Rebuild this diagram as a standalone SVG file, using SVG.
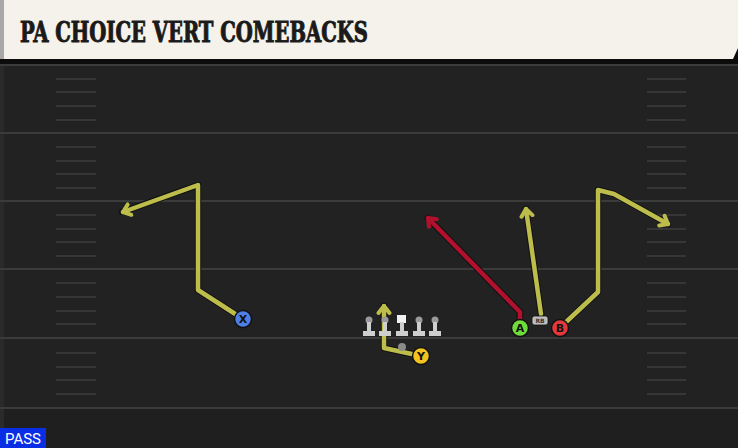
<svg xmlns="http://www.w3.org/2000/svg" width="738" height="448" viewBox="0 0 738 448">
<style>
.yl{fill:none;stroke:#bdbd4c;stroke-width:4.5;stroke-linejoin:round;stroke-linecap:round}
.rd{fill:none;stroke:#b3102e;stroke-width:4.5;stroke-linejoin:round;stroke-linecap:round}
.ol{fill:none;stroke:#111;stroke-width:6.5;stroke-linejoin:round;stroke-linecap:round}
.fl{stroke:#3b3b3b;stroke-width:2}
.hm{stroke:#363636;stroke-width:2}
.pl{stroke:#111;stroke-width:1.5}
.lt{font-family:"DejaVu Sans","Liberation Sans",sans-serif;font-weight:bold;font-size:11px;fill:#111;text-anchor:middle}
.ln{fill:#cfcfcf}
.lh{fill:#9a9a9a}
</style>
<defs>
<marker id="ay" viewBox="-9 -9 18 18" markerWidth="18" markerHeight="18" refX="0" refY="0" orient="auto" markerUnits="userSpaceOnUse">
<polyline points="-7,-5.5 0,0 -7,5.5" fill="none" stroke="#bdbd4c" stroke-width="4" stroke-linecap="round" stroke-linejoin="round"/>
</marker>
<marker id="ar" viewBox="-9 -9 18 18" markerWidth="18" markerHeight="18" refX="0" refY="0" orient="auto" markerUnits="userSpaceOnUse">
<polyline points="-7,-5.5 0,0 -7,5.5" fill="none" stroke="#b3102e" stroke-width="4" stroke-linecap="round" stroke-linejoin="round"/>
</marker>
<g id="lm">
<circle cx="0" cy="-7" r="3.5" class="lh"/>
<rect x="-2" y="-5" width="4" height="10" class="ln"/>
<rect x="-6" y="4" width="12" height="5" class="ln"/>
</g>
</defs>
<rect x="0" y="0" width="738" height="448" fill="#222222"/>
<rect x="0" y="408" width="738" height="40" fill="#1f1f1f"/>
<rect x="0" y="60" width="4" height="388" fill="#2a2a2a"/>
<g id="field">
<line class="fl" x1="0" y1="65" x2="738" y2="65"/>
<line class="fl" x1="0" y1="133" x2="738" y2="133"/>
<line class="fl" x1="0" y1="201" x2="738" y2="201"/>
<line class="fl" x1="0" y1="269" x2="738" y2="269"/>
<line class="fl" x1="0" y1="338" x2="738" y2="338"/>
<line class="fl" x1="0" y1="408" x2="738" y2="408"/>
<g class="hm">
<line x1="56" y1="79" x2="96" y2="79"/><line x1="56" y1="92" x2="96" y2="92"/><line x1="56" y1="106" x2="96" y2="106"/><line x1="56" y1="120" x2="96" y2="120"/>
<line x1="56" y1="147" x2="96" y2="147"/><line x1="56" y1="161" x2="96" y2="161"/><line x1="56" y1="174" x2="96" y2="174"/><line x1="56" y1="188" x2="96" y2="188"/>
<line x1="56" y1="215" x2="96" y2="215"/><line x1="56" y1="229" x2="96" y2="229"/><line x1="56" y1="242" x2="96" y2="242"/><line x1="56" y1="256" x2="96" y2="256"/>
<line x1="56" y1="283" x2="96" y2="283"/><line x1="56" y1="297" x2="96" y2="297"/><line x1="56" y1="311" x2="96" y2="311"/><line x1="56" y1="324" x2="96" y2="324"/>
<line x1="56" y1="353" x2="96" y2="353"/><line x1="56" y1="367" x2="96" y2="367"/><line x1="56" y1="380" x2="96" y2="380"/><line x1="56" y1="394" x2="96" y2="394"/>
<line x1="647" y1="79" x2="686" y2="79"/><line x1="647" y1="92" x2="686" y2="92"/><line x1="647" y1="106" x2="686" y2="106"/><line x1="647" y1="120" x2="686" y2="120"/>
<line x1="647" y1="147" x2="686" y2="147"/><line x1="647" y1="161" x2="686" y2="161"/><line x1="647" y1="174" x2="686" y2="174"/><line x1="647" y1="188" x2="686" y2="188"/>
<line x1="647" y1="215" x2="686" y2="215"/><line x1="647" y1="229" x2="686" y2="229"/><line x1="647" y1="242" x2="686" y2="242"/><line x1="647" y1="256" x2="686" y2="256"/>
<line x1="647" y1="283" x2="686" y2="283"/><line x1="647" y1="297" x2="686" y2="297"/><line x1="647" y1="311" x2="686" y2="311"/><line x1="647" y1="324" x2="686" y2="324"/>
<line x1="647" y1="353" x2="686" y2="353"/><line x1="647" y1="367" x2="686" y2="367"/><line x1="647" y1="380" x2="686" y2="380"/><line x1="647" y1="394" x2="686" y2="394"/>
</g>
</g>
<g id="header">
<rect x="0" y="0" width="738" height="64" fill="#0c0c0c"/>
<polygon points="0,0 738,0 738,48 733,59 0,59" fill="#f5f2eb"/>
<rect x="0" y="0" width="4" height="59" fill="#a8a8a8"/>
<text x="20" y="42" font-family="'DejaVu Serif Condensed','DejaVu Serif',serif" font-weight="bold" font-size="27" fill="#1a1a1a" stroke="#1a1a1a" stroke-width="0.9" textLength="348" lengthAdjust="spacingAndGlyphs">PA CHOICE VERT COMEBACKS</text>
</g>
<g id="connectors">
<polyline class="ol" points="243,319 198,290 198,185 122,212"/>
<polyline class="yl" points="243,319 198,290 198,185 123,212" marker-end="url(#ay)"/>
<polyline class="ol" points="421,356 384,348 384,306"/>
<polyline class="yl" points="421,356 384,348 384,306" marker-end="url(#ay)"/>
<polyline class="ol" points="520,322 520,312 428,218"/>
<polyline class="rd" points="520,322 520,312 428,218" marker-end="url(#ar)"/>
<polyline class="ol" points="541,314 526,209"/>
<polyline class="yl" points="541,314 526,209" marker-end="url(#ay)"/>
<polyline class="ol" points="565,323 598,292 598,190 614,194 668,224"/>
<polyline class="yl" points="565,323 598,292 598,190 614,194 668,224" marker-end="url(#ay)"/>
</g>
<g id="line">
<use href="#lm" x="369" y="327"/>
<use href="#lm" x="385" y="327"/>
<g id="center"><rect x="397" y="315" width="9" height="8" fill="#f2f2f2"/><rect x="400" y="322" width="4" height="10" class="ln"/><rect x="396" y="331" width="12" height="5" class="ln"/></g>
<use href="#lm" x="419" y="327"/>
<use href="#lm" x="435" y="327"/>
</g>
<g id="qb"><circle cx="402" cy="347" r="4" fill="#8a8a8a"/></g>
<g id="X"><circle cx="243" cy="319" r="8.5" fill="#4d7fe6" class="pl"/><text class="lt" x="243" y="323">X</text></g>
<g id="Y"><circle cx="421" cy="356" r="8.5" fill="#f2c21e" class="pl"/><text class="lt" x="421" y="360">Y</text></g>
<g id="A"><circle cx="520" cy="328" r="8.5" fill="#6fdc3c" class="pl"/><text class="lt" x="520" y="332">A</text></g>
<g id="B"><circle cx="560" cy="328" r="8.5" fill="#e2393c" class="pl"/><text class="lt" x="560" y="332">B</text></g>
<g id="RB"><rect x="532" y="316" width="16" height="9" rx="2.5" fill="#bdbdbd" stroke="#111" stroke-width="0.8"/><text x="540" y="323" font-family="'DejaVu Sans',sans-serif" font-size="6" font-weight="bold" fill="#333" text-anchor="middle">RB</text></g>
<g id="pass"><rect x="0" y="428" width="46" height="20" fill="#0a2ee6"/><text x="23" y="444" font-family="'Roboto','Liberation Sans',sans-serif" font-size="15" fill="#ffffff" text-anchor="middle">PASS</text></g>
</svg>
